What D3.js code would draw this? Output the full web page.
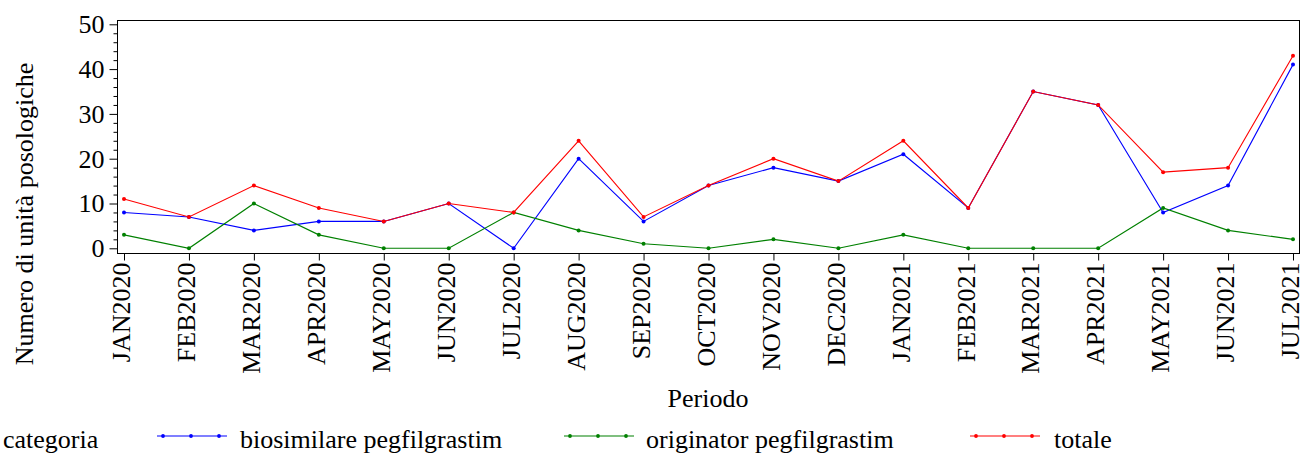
<!DOCTYPE html>
<html><head><meta charset="utf-8">
<script src="https://cdn.jsdelivr.net/npm/d3@7"></script>
<style>body{margin:0;background:#fff}svg{display:block}text{font-family:"Liberation Serif","Times New Roman",serif}</style>
</head><body>
<svg id="c" width="1305" height="453"></svg>
<script>
const periods = ["JAN2020","FEB2020","MAR2020","APR2020","MAY2020","JUN2020","JUL2020","AUG2020","SEP2020","OCT2020","NOV2020","DEC2020","JAN2021","FEB2021","MAR2021","APR2021","MAY2021","JUN2021","JUL2021"];
const biosimilare = [8,7,4,6,6,10,0,20,6,14,18,15,21,9,35,32,8,14,41];
const originator = [3,0,10,3,0,0,8,4,1,0,2,0,3,0,0,0,9,4,2];
const totale = [11,7,14,9,6,10,8,24,7,14,20,15,24,9,35,32,17,18,43];
const seriesNames = ["biosimilare pegfilgrastim","originator pegfilgrastim","totale"];
const colors = ["#0000ff","#008000","#ff0000"];
const yTicks = [0,10,20,30,40,50];

const FF = "Liberation Serif";
const FS = 26;
const svg = d3.select("#c");
const L = 117, R = 1300, T = 20, B = 253;
const x = d3.scalePoint().domain(periods).range([124, 1293]);
const y = d3.scaleLinear().domain([0,50]).range([248.3, 24.3]);

// frame
svg.append("rect").attr("x",L+0.5).attr("y",T+0.5).attr("width",R-L-1).attr("height",B-T)
  .attr("fill","none").attr("stroke","#000").attr("stroke-width",1);

// y axis
const ya = svg.append("g").attr("transform",`translate(${L+0.5},0)`)
  .call(d3.axisLeft(y).tickValues(yTicks).tickSize(8).tickPadding(5).tickFormat(d3.format("d")));
ya.select(".domain").remove();
ya.selectAll("text").attr("font-family",FF).attr("font-size",FS).attr("fill","#000");
const ym = svg.append("g").attr("transform",`translate(${L+0.5},0)`)
  .call(d3.axisLeft(y).tickValues(d3.range(0,51,2).filter(v=>v%10)).tickSize(4).tickFormat(""));
ym.select(".domain").remove();

// x axis
const xa = svg.append("g").attr("transform",`translate(0,${B+0.5})`)
  .call(d3.axisBottom(x).tickSize(7).tickPadding(0));
xa.select(".domain").remove();
xa.selectAll("text").attr("font-family",FF).attr("font-size",FS).attr("fill","#000")
  .attr("transform","rotate(-90)").attr("text-anchor","end").attr("x",-9).attr("y",0).attr("dy","0.22em");

// titles
svg.append("text").attr("x",708).attr("y",407).attr("text-anchor","middle")
  .attr("font-family",FF).attr("font-size",FS).text("Periodo");
svg.append("text").attr("transform","translate(33,214) rotate(-90)").attr("text-anchor","middle")
  .attr("font-family",FF).attr("font-size",FS).text("Numero di unità posologiche");

// lines
const data = [biosimilare, originator, totale];
const line = d3.line().x((d,i)=>x(periods[i])).y(d=>y(d));
data.forEach((vals,k)=>{
  svg.append("path").datum(vals).attr("d",line).attr("fill","none").attr("stroke",colors[k]).attr("stroke-width",1.1);
  svg.append("g").selectAll("circle").data(vals).join("circle")
    .attr("cx",(d,i)=>x(periods[i])).attr("cy",d=>y(d)).attr("r",2).attr("fill",colors[k]);
});

// legend
const ly = 448;
svg.append("text").attr("x",3).attr("y",ly).attr("font-family",FF).attr("font-size",FS).text("categoria");
const lx = [157, 564, 970];
const tx = [240, 646, 1054];
seriesNames.forEach((n,k)=>{
  const yy = ly - 12;
  svg.append("line").attr("x1",lx[k]).attr("x2",lx[k]+70).attr("y1",yy).attr("y2",yy).attr("stroke",colors[k]).attr("stroke-width",1.1);
  [6,34,62].forEach(o=>svg.append("circle").attr("cx",lx[k]+o).attr("cy",yy).attr("r",1.9).attr("fill",colors[k]));
  svg.append("text").attr("x",tx[k]).attr("y",ly).attr("font-family",FF).attr("font-size",FS).text(n);
});
</script>
</body></html>
